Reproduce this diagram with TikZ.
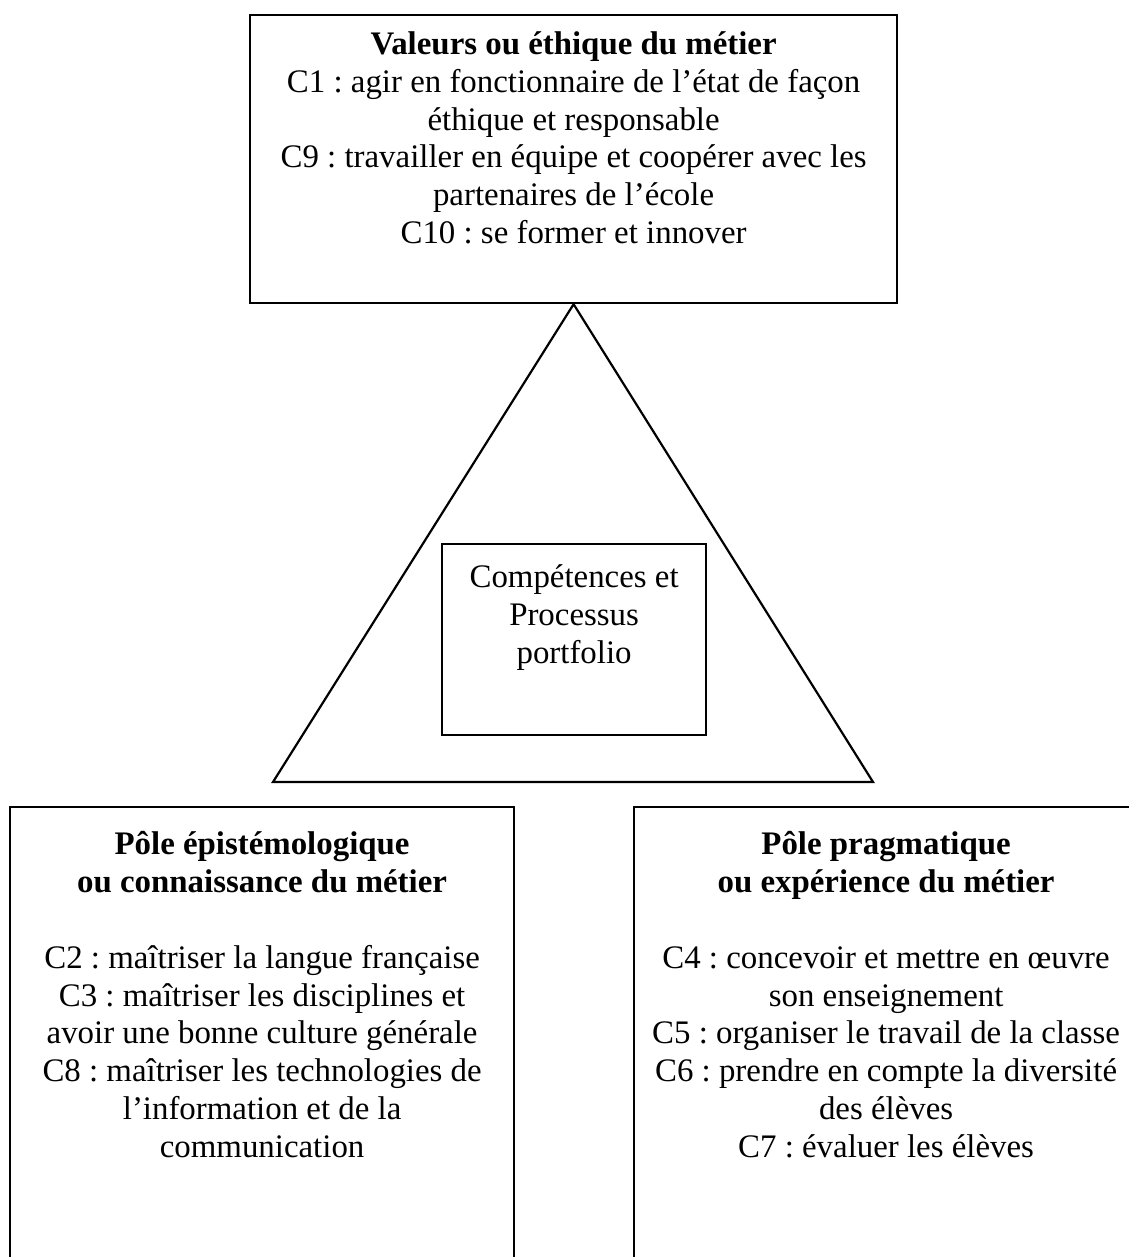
\documentclass[tikz,border=0pt]{standalone}
\usepackage{fontspec}
\setmainfont{Liberation Serif}
\frenchspacing
\usetikzlibrary{positioning}
\begin{document}
\begin{tikzpicture}[
        x=0.365pt, y=-0.365pt,
        box/.style={draw, line width=0.8pt, rectangle, inner sep=0pt, anchor=north west},
        txt/.style={font=\fontsize{12}{13.8}\selectfont, align=center, inner sep=0pt, anchor=north}
    ]
    \useasboundingbox (0,0) rectangle (1129,1257);

    % Boxes
    \node (valeurs) [box, minimum width=647*0.365pt, minimum height=288*0.365pt] at (249,14) {};
    \node (centre) [box, minimum width=264*0.365pt, minimum height=191*0.365pt] at (441,543) {};
    \node (episteme) [box, minimum width=504*0.365pt, minimum height=494*0.365pt] at (9,806) {};
    \node (pragma) [box, minimum width=504*0.365pt, minimum height=494*0.365pt] at (633,806) {};

    % Texts
    \node (valeurs-txt) [txt, below=6.2pt of valeurs.north] {\textbf{Valeurs ou éthique du métier}\\
        C1 : agir en fonctionnaire de l’état de façon\\ éthique et responsable\\
        C9 : travailler en équipe et coopérer avec les\\ partenaires de l’école\\
        C10 : se former et innover};
    \node (centre-txt) [txt, below=7.7pt of centre.north] {Compétences et\\ Processus\\ portfolio};
    \node (episteme-txt) [txt, below=9.2pt of episteme.north] {\textbf{Pôle épistémologique}\\
        \textbf{ou connaissance du métier}\\[13.8pt]
        C2 : maîtriser la langue française\\
        C3 : maîtriser les disciplines et\\ avoir une bonne culture générale\\
        C8 : maîtriser les technologies de\\ l’information et de la\\ communication};
    \node (pragma-txt) [txt, below=9.2pt of pragma.north] {\textbf{Pôle pragmatique}\\
        \textbf{ou expérience du métier}\\[13.8pt]
        C4 : concevoir et mettre en œuvre\\ son enseignement\\
        C5 : organiser le travail de la classe\\
        C6 : prendre en compte la diversité\\ des élèves\\
        C7 : évaluer les élèves};

    % Triangle
    \coordinate (baseL) at (273,782);
    \coordinate (baseR) at (873,782);
    \draw [line width=0.8pt] (valeurs.south) -- (baseL) -- (baseR) -- cycle;
\end{tikzpicture}
\end{document}
